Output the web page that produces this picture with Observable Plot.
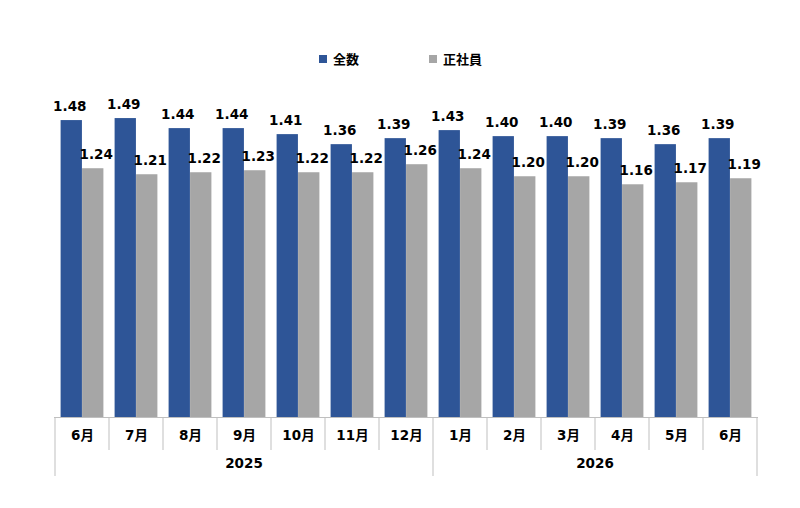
<!DOCTYPE html>
<html>
<head>
<meta charset="utf-8">
<script src="https://cdn.jsdelivr.net/npm/d3@7"></script>
<script src="https://cdn.jsdelivr.net/npm/@observablehq/plot@0.6"></script>
<style>
  body { margin: 0; background: #fff; font-family: "DejaVu Sans", "Noto Sans CJK JP", sans-serif; }
  #legend { position: relative; height: 80px; width: 800px; font-weight: bold; font-size: 13px; color: #000; }
  .item { position: absolute; top: 49px; display: flex; align-items: center; }
  .sw { width: 8px; height: 8px; margin-right: 6px; }
</style>
</head>
<body>
<div id="legend"></div>
<div id="chart"></div>
<script>
const years = ["2025","2025","2025","2025","2025","2025","2025","2026","2026","2026","2026","2026","2026"];
const months = ["6月","7月","8月","9月","10月","11月","12月","1月","2月","3月","4月","5月","6月"];
const total = [1.48,1.49,1.44,1.44,1.41,1.36,1.39,1.43,1.40,1.40,1.39,1.36,1.39];
const regular = [1.24,1.21,1.22,1.23,1.22,1.22,1.26,1.24,1.20,1.20,1.16,1.17,1.19];
const seriesNames = ["全数","正社員"];
const colors = ["#2E5597","#A6A6A6"];

const keys = months.map((m,i) => years[i] + "-" + m);
const data = keys.map((k,i) => ({key:k, month:months[i], year:years[i], total:total[i], regular:regular[i]}));

// legend
const legend = document.getElementById("legend");
const legendX = [319, 429];
seriesNames.forEach((s,i) => {
  const el = document.createElement("div");
  el.className = "item";
  el.style.left = legendX[i] + "px";
  el.innerHTML = `<div class="sw" style="background:${colors[i]}"></div><span>${s}</span>`;
  legend.appendChild(el);
});

const W = 800, H = 428, mL = 54, mR = 42, mT = 16, mB = 91;
const step = (W - mL - mR) / keys.length;
const pad = 5.6, half = step / 2;
const font = "DejaVu Sans, Noto Sans CJK JP, sans-serif";

const chart = Plot.plot({
  width: W, height: H,
  marginLeft: mL, marginRight: mR, marginTop: mT, marginBottom: mB,
  style: {fontFamily: font, background: "#fff"},
  x: {domain: keys, padding: 0, axis: null},
  y: {domain: [0, 1.6], axis: null},
  marks: [
    Plot.barY(data, {x: "key", y: "total", fill: colors[0], insetLeft: pad, insetRight: half}),
    Plot.barY(data, {x: "key", y: "regular", fill: colors[1], insetLeft: half, insetRight: pad}),
    Plot.text(data, {x: "key", y: "total", text: d => d.total.toFixed(2), dx: -step/4 + pad/2 - 2, dy: -14,
      fontWeight: "bold", fontSize: 13.5, fill: "#000"}),
    Plot.text(data, {x: "key", y: "regular", text: d => d.regular.toFixed(2), dx: step/4 - pad/2 + 3, dy: -14,
      fontWeight: "bold", fontSize: 13.5, fill: "#000"}),
    Plot.axisX({tickSize: 0, tickPadding: 13, tickFormat: k => k.split("-")[1], fontWeight: "bold", fontSize: 13.5, label: null, stroke: null, fill: "#000"}),
    Plot.ruleY([0], {stroke: "#BFBFBF"})
  ]
});
document.getElementById("chart").appendChild(chart);

// separators and year labels using the plot's x scale
const xs = chart.scale("x");
const svg = d3.select(chart);
const base = H - mB;
const g = svg.append("g");
const bounds = [];
keys.forEach((k,i) => {
  const left = xs.apply(k);
  const isYearStart = i === 0 || years[i] !== years[i-1];
  bounds.push({x: left, year: isYearStart});
});
bounds.push({x: xs.apply(keys[keys.length-1]) + xs.bandwidth, year: true});
bounds.forEach(b => {
  g.append("line").attr("x1", b.x).attr("x2", b.x).attr("y1", base).attr("y2", base + (b.year ? 59 : 33))
    .attr("stroke", "#BFBFBF").attr("stroke-width", 1);
});
const uniqYears = [...new Set(years)];
uniqYears.forEach(y => {
  const ks = keys.filter((k,i) => years[i] === y);
  const x0 = xs.apply(ks[0]);
  const x1 = xs.apply(ks[ks.length-1]) + xs.bandwidth;
  g.append("text").attr("x", (x0+x1)/2).attr("y", base + 51).attr("text-anchor", "middle")
    .attr("font-weight", "bold").attr("font-size", 13.5).attr("font-family", font).attr("fill", "#000").text(y);
});
</script>
</body>
</html>
